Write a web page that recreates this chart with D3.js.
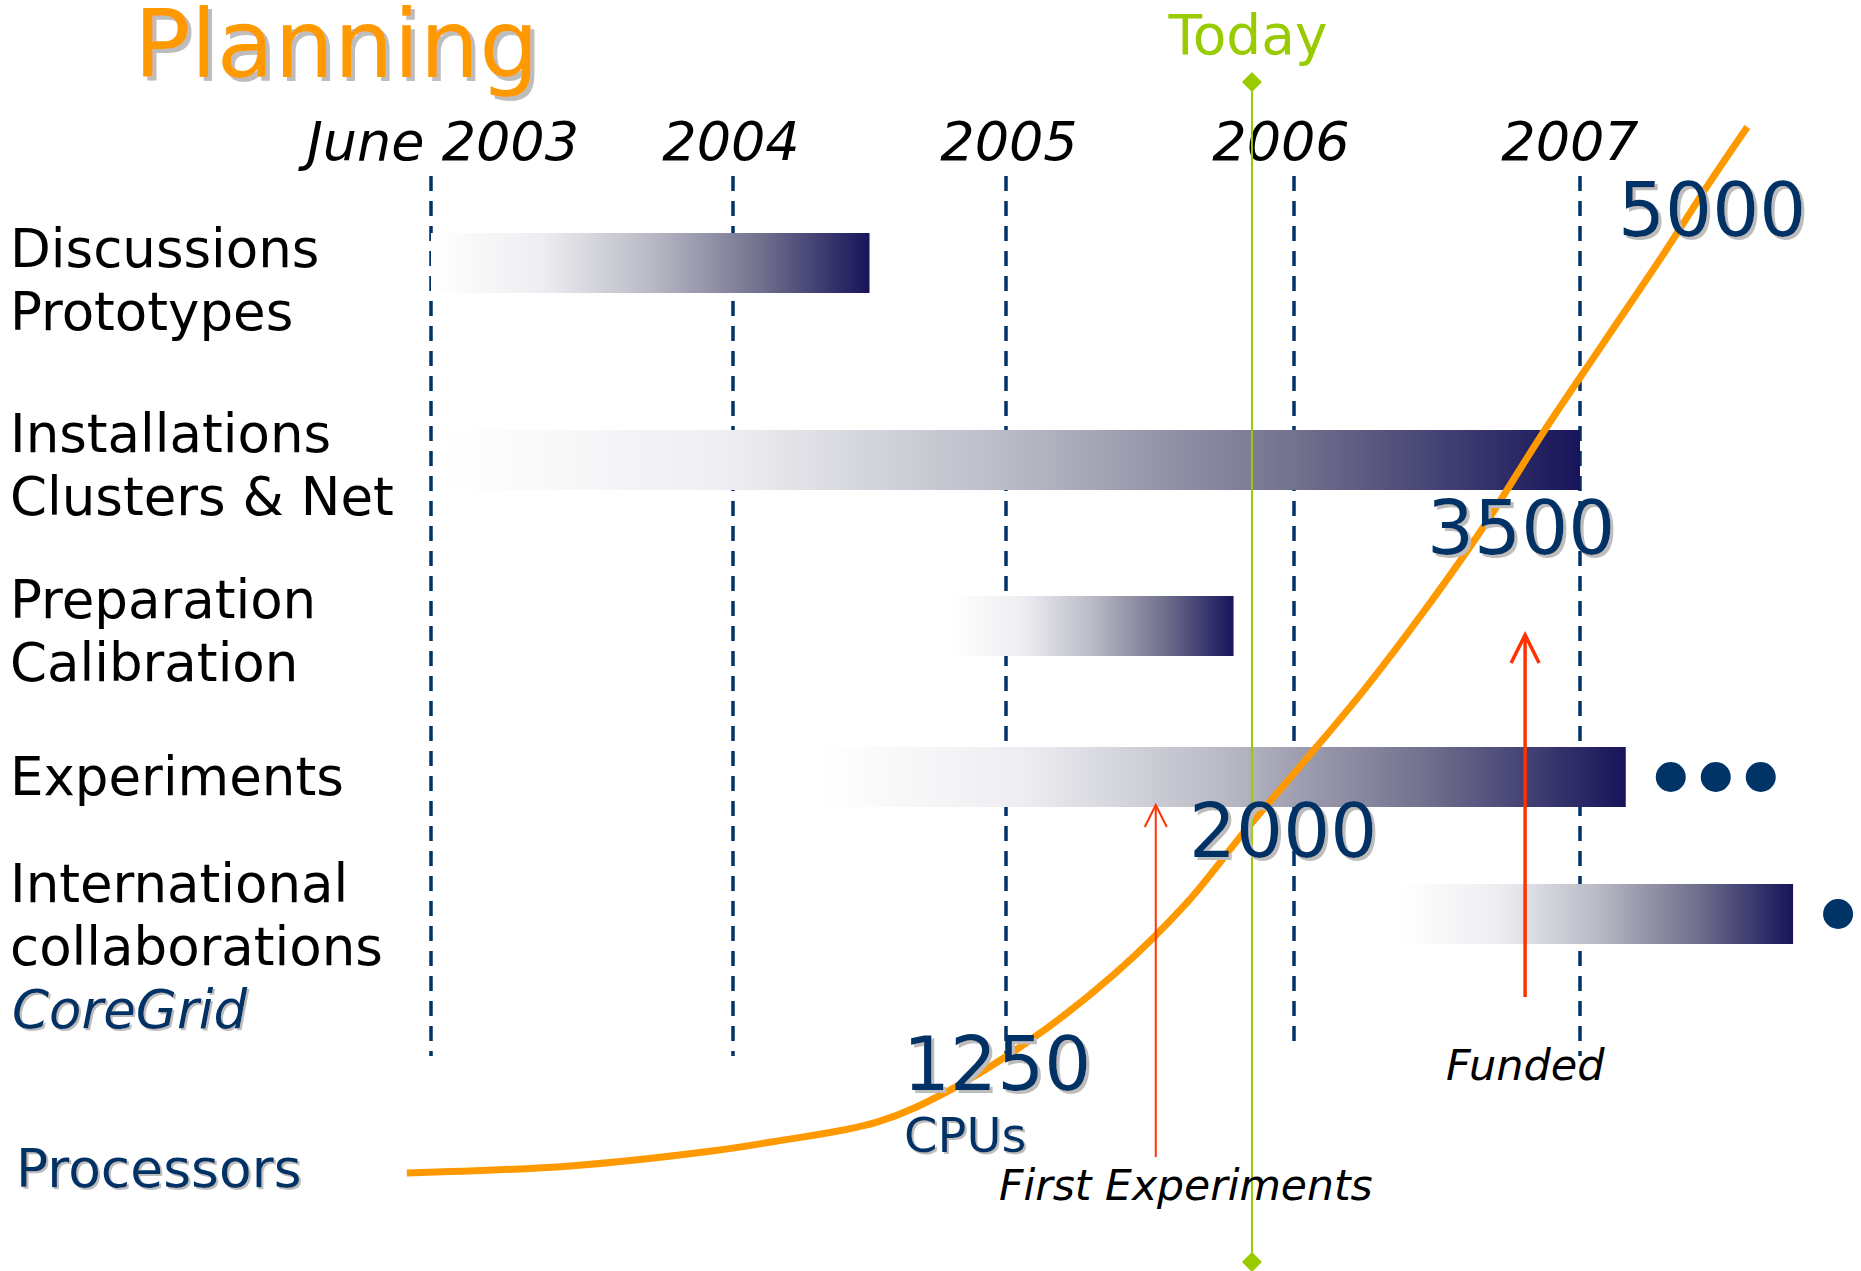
<!DOCTYPE html>
<html>
<head>
<meta charset="utf-8">
<script src="https://cdn.jsdelivr.net/npm/d3@7"></script>
<style>
  body { margin: 0; background: #fff; }
  svg { display: block; font-family: "DejaVu Sans", Verdana, sans-serif; }
</style>
</head>
<body>
<div id="chart"></div>
<script>
// time axis: the slide's year marks (not evenly spaced)
const yearMarks = [2003.5, 2004, 2005, 2006, 2007];
const yearLabels = ["June 2003", "2004", "2005", "2006", "2007"];

// activity rows
const rowNames = ["Discussions", "Installations", "Preparation", "Experiments", "International"];
const rowLines = [
    ["Discussions", "Prototypes"],
    ["Installations", "Clusters & Net"],
    ["Preparation", "Calibration"],
    ["Experiments"],
    ["International", "collaborations"]
];
const barStart = [2003.5, 2003.52, 2004.8, 2004.31, 2006.37];
const barEnd = [2004.5, 2007.0, 2005.79, 2007.16, 2007.745];
const moreDots = [0, 0, 0, 3, 1];

// processors curve [year, cpus]
const cpuCurve = [
    [2003.46, 19], [2003.73, 87], [2003.965, 231], [2004.14, 317], [2004.53, 510],
    [2004.795, 817], [2005.09, 1272], [2005.38, 1513], [2005.63, 1773], [2005.83, 2038],
    [2006.04, 2333], [2006.25, 2633], [2006.455, 2954], [2006.66, 3300], [2006.87, 3720],
    [2007.08, 4138], [2007.29, 4555], [2007.45, 4888], [2007.585, 5155]
];
const cpuMilestones = ["1250", "2000", "3500", "5000"];

const today = 2005.854;
const firstExperiments = 2005.52;
const funded = 2006.808;

const W = 1861, H = 1271;
const navy = "#003366", orange = "#ff9900", green = "#99cc00", red = "#ff3300";

const svg = d3.select("#chart").append("svg").attr("width", W).attr("height", H);

const x = d3.scaleLinear().domain(yearMarks).range([431, 733, 1006, 1294, 1580]);
const y = d3.scaleLinear().domain([0, 1250, 2000, 3500, 5000]).range([1175, 1045, 840, 480, 160]);
const rowY = d3.scaleOrdinal().domain(rowNames).range([263, 460, 626, 777, 914]);
const barH = 60;

const defs = svg.append("defs");

// gradient for the bars
const grad = defs.append("linearGradient").attr("id", "fade")
    .attr("x1", "0%").attr("x2", "100%");
[[0, "#ffffff"], [0.25, "#eeeef2"], [0.5, "#babac6"], [0.75, "#72718e"], [1, "#17145a"]]
    .forEach(s => grad.append("stop").attr("offset", s[0]).attr("stop-color", s[1]));

// grey drop shadows for the slide's shadowed text
[["sh2", 2], ["sh3", 3], ["sh4", 4]].forEach(([id, off]) => {
    const f = defs.append("filter").attr("id", id)
        .attr("x", "-5%").attr("y", "-20%").attr("width", "115%").attr("height", "150%");
    f.append("feOffset").attr("in", "SourceAlpha").attr("dx", off).attr("dy", off).attr("result", "o");
    f.append("feFlood").attr("flood-color", "#bdbdbd").attr("result", "c");
    f.append("feComposite").attr("in", "c").attr("in2", "o").attr("operator", "in").attr("result", "s");
    const m = f.append("feMerge");
    m.append("feMergeNode").attr("in", "s");
    m.append("feMergeNode").attr("in", "SourceGraphic");
});

function shadowText(txt, tx, ty, size, color, opts) {
    opts = opts || {};
    return svg.append("text").attr("x", tx).attr("y", ty)
        .attr("font-size", size).attr("fill", color)
        .attr("font-style", opts.italic ? "italic" : null)
        .attr("filter", `url(#sh${opts.off || 3})`)
        .text(txt);
}

// title
shadowText("Planning", 134, 77, 94, orange, { off: 4 });

// year labels and dashed lines
const labelCx = [443, 731, 1009, 1281, 1570];
svg.append("g").selectAll("text").data(yearLabels).join("text")
    .attr("x", (d, i) => labelCx[i]).attr("y", 160)
    .attr("text-anchor", "middle").attr("font-size", 54).attr("font-style", "italic")
    .attr("fill", "#000").text(d => d);

svg.append("g").selectAll("line").data(yearMarks).join("line")
    .attr("x1", d => x(d)).attr("x2", d => x(d))
    .attr("y1", 176).attr("y2", (d, i) => i === 3 ? 1048 : 1056)
    .attr("stroke", navy).attr("stroke-width", 3.5).attr("stroke-dasharray", "15,10");

// row labels
const rowLabelBase = [267, 452, 618, 795, 902];
const rowLabels = svg.append("g");
rowLines.forEach((lines, i) => {
    lines.forEach((t, j) => {
        rowLabels.append("text").attr("x", 10).attr("y", rowLabelBase[i] + j * 63)
            .attr("font-size", 53).attr("fill", "#000").text(t);
    });
});
shadowText("CoreGrid", 12, 1028, 53, navy, { italic: true, off: 2 });

// bars
svg.append("g").selectAll("rect").data(rowNames).join("rect")
    .attr("x", (d, i) => x(barStart[i]))
    .attr("width", (d, i) => x(barEnd[i]) - x(barStart[i]))
    .attr("y", d => rowY(d) - barH / 2).attr("height", barH)
    .attr("fill", "url(#fade)");

// continuation dots
const dots = [];
rowNames.forEach((r, i) => {
    for (let k = 0; k < moreDots[i]; k++) dots.push({ r: r, i: i, k: k });
});
svg.append("g").selectAll("circle").data(dots).join("circle")
    .attr("cx", d => x(barEnd[d.i]) + 45 + d.k * 45)
    .attr("cy", d => rowY(d.r)).attr("r", 15).attr("fill", navy);

// processors curve
const line = d3.line().x(d => x(d[0])).y(d => y(d[1])).curve(d3.curveCatmullRom);
svg.append("path").datum(cpuCurve).attr("d", line)
    .attr("fill", "none").attr("stroke", orange).attr("stroke-width", 7);

// today line
svg.append("line").attr("x1", x(today)).attr("x2", x(today)).attr("y1", 82).attr("y2", 1262)
    .attr("stroke", green).attr("stroke-width", 2);
svg.append("g").selectAll("path").data([82, 1262]).join("path")
    .attr("d", d => `M${x(today)},${d - 10}L${x(today) + 10},${d}L${x(today)},${d + 10}L${x(today) - 10},${d}Z`)
    .attr("fill", green);
svg.append("text").attr("x", x(today) - 4).attr("y", 54).attr("text-anchor", "middle")
    .attr("font-size", 55).attr("fill", green).text("Today");

// milestone numbers
const milePos = [[903, 1090], [1189, 857], [1427, 554], [1618, 236]];
cpuMilestones.forEach((m, i) => shadowText(m, milePos[i][0], milePos[i][1], 74, navy));
shadowText("CPUs", 904, 1152, 48, navy, { off: 2 });
shadowText("Processors", 16, 1187, 53.5, navy, { off: 2 });

// red arrows
function arrow(xv, top, bottom, w, head, half) {
    const g = svg.append("g").attr("stroke", red).attr("fill", "none").attr("stroke-width", w);
    g.append("line").attr("x1", x(xv)).attr("x2", x(xv)).attr("y1", top).attr("y2", bottom);
    g.append("path").attr("d", `M${x(xv) - half},${top + head}L${x(xv)},${top}L${x(xv) + half},${top + head}`);
}
arrow(firstExperiments, 805, 1157, 2, 22, 11);
arrow(funded, 635, 997, 3.5, 28, 14);

svg.append("text").attr("x", 999).attr("y", 1200).attr("font-size", 42.5)
    .attr("font-style", "italic").attr("fill", "#000").text("First Experiments");
svg.append("text").attr("x", 1446).attr("y", 1080).attr("font-size", 43)
    .attr("font-style", "italic").attr("fill", "#000").text("Funded");
</script>
</body>
</html>
